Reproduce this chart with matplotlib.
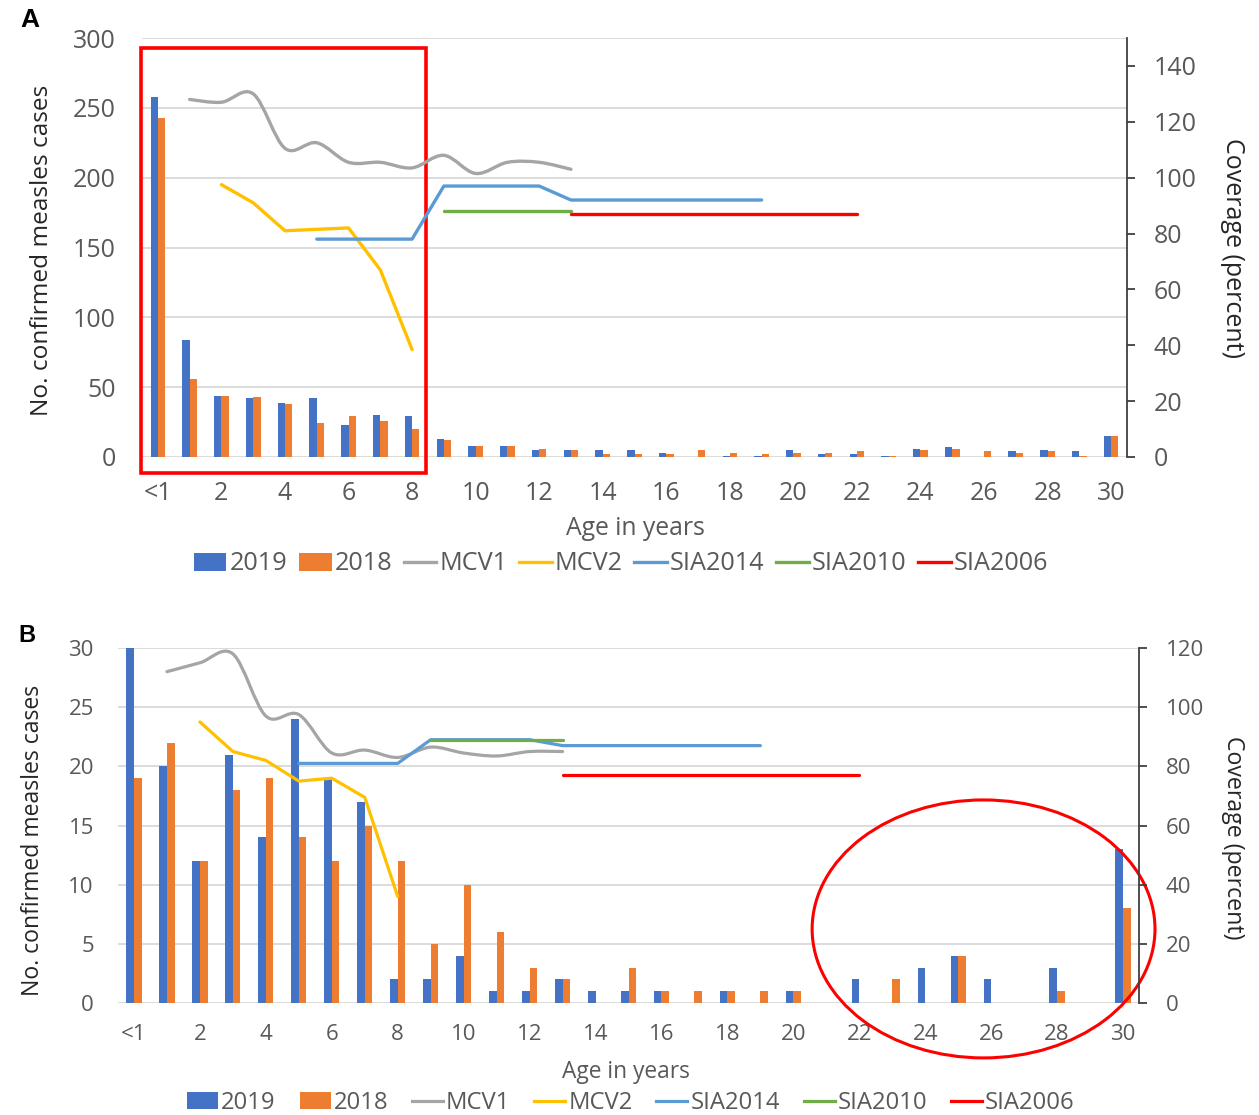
import numpy as np
import matplotlib
matplotlib.use("Agg")
import matplotlib.pyplot as plt
from matplotlib.path import Path
from matplotlib.patches import PathPatch, Rectangle, Ellipse, Patch
from matplotlib.lines import Line2D

plt.rcParams["font.family"] = ["Open Sans", "DejaVu Sans"]

nan = np.nan

# Age categories (x axis)
ages = ["<1"] + [str(i) for i in range(1, 31)]
tick_labels = ["<1"] + [str(i) if i % 2 == 0 else "" for i in range(1, 31)]

# ---- Panel A: confirmed measles cases by age ----
cases2019_a = [258, 84, 44, 42, 39, 42, 23, 30, 29, 13, 8, 8, 5, 5, 5, 5,
               3, 0, 1, 1, 5, 2, 2, 1, 6, 7, 0, 4, 5, 4, 15]
cases2018_a = [243, 56, 44, 43, 38, 24, 29, 26, 20, 12, 8, 8, 6, 5, 2, 2,
               2, 5, 3, 2, 3, 3, 4, 1, 5, 6, 4, 3, 4, 1, 15]

# Coverage (percent) by birth cohort age, panel A
mcv1_a = [nan, 128, 127, 130, 110.5, 112.5, 105.5, 105.5, 103.5, 108, 101.5,
          105.5, 105.5, 103] + [nan] * 17
mcv2_a = [nan, nan, 97.5, 91, 81, 81.5, 82, 67, 38.5] + [nan] * 22
sia2014_a = [nan] * 5 + [78, 78, 78, 78, 97, 97, 97, 97, 92, 92, 92, 92, 92,
                         92, 92] + [nan] * 11
sia2010_a = [nan] * 9 + [88, 88, 88, 88, 88] + [nan] * 17
sia2006_a = [nan] * 13 + [87, 87, 87, 87, 87, 87, 87, 87, 87, 87] + [nan] * 8

# ---- Panel B ----
cases2019_b = [30, 20, 12, 21, 14, 24, 19, 17, 2, 2, 4, 1, 1, 2, 1, 1,
               1, 0, 1, 0, 1, 0, 2, 0, 3, 4, 2, 0, 3, 0, 13]
cases2018_b = [19, 22, 12, 18, 19, 14, 12, 15, 12, 5, 10, 6, 3, 2, 0, 3,
               1, 1, 1, 1, 1, 0, 0, 2, 0, 4, 0, 0, 1, 0, 8]

mcv1_b = [nan, 112, 115, 118, 97, 97.5, 84.5, 85.5, 83, 86.5, 84.5, 83.5,
          85, 85] + [nan] * 17
mcv2_b = [nan, nan, 95, 85, 82, 75, 76, 69.5, 36] + [nan] * 22
sia2014_b = [nan] * 5 + [81, 81, 81, 81, 89, 89, 89, 89, 87, 87, 87, 87, 87,
                         87, 87] + [nan] * 11
sia2010_b = [nan] * 9 + [89, 89, 89, 89, 89] + [nan] * 17
sia2006_b = [nan] * 13 + [77, 77, 77, 77, 77, 77, 77, 77, 77, 77] + [nan] * 8

C2019 = "#4472C4"
C2018 = "#ED7D31"
CMCV1 = "#A5A5A5"
CMCV2 = "#FFC000"
CS14 = "#5B9BD5"
CS10 = "#70AD47"
CS06 = "#FF0000"
GRID = "#D9D9D9"
TXT = "#595959"

W, H = 1259, 1115
fig = plt.figure(figsize=(W / 100, H / 100), dpi=100)


def px_box(l, r, t, b):
    return [l / W, 1 - b / H, (r - l) / W, (b - t) / H]


def smooth_path(xs, ys):
    pts = np.column_stack([xs, ys])
    n = len(pts)
    verts = [pts[0]]
    codes = [Path.MOVETO]
    for i in range(n - 1):
        p0 = pts[i - 1] if i > 0 else pts[i]
        p1 = pts[i]
        p2 = pts[i + 1]
        p3 = pts[i + 2] if i + 2 < n else pts[i + 1]
        c1 = p1 + (p2 - p0) / 6.0
        c2 = p2 - (p3 - p1) / 6.0
        verts += [c1, c2, p2]
        codes += [Path.CURVE4] * 3
    return Path(verts, codes)


def panel(box, c19, c18, mcv1, mcv2, s14, s10, s06, ymax, ystep, y2max,
          y2ticks, fs, lw_line, lpad, rpad):
    ax = fig.add_axes(box)
    x = np.arange(len(ages))
    bw = 0.23
    ax.bar(x - bw / 2, c19, bw, color=C2019, zorder=2)
    ax.bar(x + bw / 2, c18, bw, color=C2018, zorder=2)
    ax.set_xlim(-0.5, len(ages) - 0.5)
    ax.set_ylim(0, ymax)
    ax.set_yticks(np.arange(0, ymax + 0.1, ystep))
    ax.yaxis.grid(True, color=GRID, lw=1.3, zorder=0)
    ax.set_axisbelow(True)
    for s in ax.spines.values():
        s.set_visible(False)
    ax.set_xticks(x)
    ax.set_xticklabels(tick_labels)
    ax.tick_params(axis="x", length=0, pad=fs * 0.95, labelsize=fs,
                   labelcolor=TXT)
    ax.tick_params(axis="y", length=0, pad=lpad, labelsize=fs,
                   labelcolor=TXT)

    ax2 = ax.twinx()
    ax2.set_ylim(0, y2max)
    ax2.set_yticks(y2ticks)
    for k, s in ax2.spines.items():
        s.set_visible(k == "right")
    ax2.spines["right"].set_color("#404040")
    ax2.spines["right"].set_linewidth(1.3)
    ax2.tick_params(axis="y", direction="out", length=6, width=1.3,
                    color="#404040", pad=rpad, labelsize=fs,
                    labelcolor=TXT)

    m1 = np.array(mcv1, dtype=float)
    ok = ~np.isnan(m1)
    ax2.add_patch(PathPatch(smooth_path(x[ok], m1[ok]), fill=False,
                            edgecolor=CMCV1, lw=lw_line, capstyle="round",
                            joinstyle="round", zorder=3))
    for series, col in [(mcv2, CMCV2), (s14, CS14), (s10, CS10), (s06, CS06)]:
        ax2.plot(x, series, color=col, lw=lw_line, solid_capstyle="round",
                 solid_joinstyle="round", zorder=3)
    return ax, ax2


def add_legend(cx, cy, fs, lw_line, colsp):
    handles = [
        Patch(facecolor=C2019, edgecolor="none"),
        Patch(facecolor=C2018, edgecolor="none"),
        Line2D([], [], color=CMCV1, lw=lw_line),
        Line2D([], [], color=CMCV2, lw=lw_line),
        Line2D([], [], color=CS14, lw=lw_line),
        Line2D([], [], color=CS10, lw=lw_line),
        Line2D([], [], color=CS06, lw=lw_line),
    ]
    labels = ["2019", "2018", "MCV1", "MCV2", "SIA2014", "SIA2010", "SIA2006"]
    leg = fig.legend(handles, labels, loc="center",
                     bbox_to_anchor=(cx / W, 1 - cy / H), ncol=7,
                     frameon=False, fontsize=fs, handlelength=1.3,
                     handleheight=0.7, handletextpad=0.12,
                     columnspacing=colsp, borderaxespad=0, borderpad=0)
    for t in leg.get_texts():
        t.set_color(TXT)


# Panel A
axA, axA2 = panel(px_box(142, 1127, 38, 457), cases2019_a, cases2018_a,
                  mcv1_a, mcv2_a, sia2014_a, sia2010_a, sia2006_a,
                  300, 50, 150, np.arange(0, 141, 20), 18, 2.4, 19, 13)
fig.text(20 / W, 1 - 20 / H, "A", fontsize=19, fontweight="bold",
         family="Liberation Sans", ha="left", va="center")
fig.text(42 / W, 1 - 250 / H, "No. confirmed measles cases", rotation=90,
         fontsize=17.6, color="#262626", ha="center", va="center")
fig.text(1232 / W, 1 - 248 / H, "Coverage (percent)", rotation=270,
         fontsize=18, color="#262626", ha="center", va="center")
fig.text(635 / W, 1 - 529 / H, "Age in years", fontsize=17.8, color=TXT,
         ha="center", va="center")
add_legend(621, 564, 18.2, 2.4, 0.45)
axA.add_patch(Rectangle((-0.535, -11.5), 8.975, 304.3, fill=False,
                        edgecolor=CS06, lw=2.6, clip_on=False, zorder=5))

# Panel B
axB, axB2 = panel(px_box(117.5, 1139.5, 648, 1003), cases2019_b, cases2018_b,
                  mcv1_b, mcv2_b, sia2014_b, sia2010_b, sia2006_b,
                  30, 5, 120, np.arange(0, 121, 20), 16, 2.3, 17, 13)
fig.text(18 / W, 1 - 636 / H, "B", fontsize=17, fontweight="bold",
         family="Liberation Sans", ha="left", va="center")
fig.text(33 / W, 1 - 840 / H, "No. confirmed measles cases", rotation=90,
         fontsize=16.6, color="#262626", ha="center", va="center")
fig.text(1233 / W, 1 - 838 / H, "Coverage (percent)", rotation=270,
         fontsize=16.7, color="#262626", ha="center", va="center")
fig.text(626 / W, 1 - 1072 / H, "Age in years", fontsize=16.4, color=TXT,
         ha="center", va="center")
add_legend(631, 1103, 17.2, 2.3, 1.0)
axB.add_patch(Ellipse((25.77, 6.26), 10.4, 21.8, fill=False,
                      edgecolor=CS06, lw=2.2, clip_on=False, zorder=5))

fig.savefig("out.png", dpi=100)
